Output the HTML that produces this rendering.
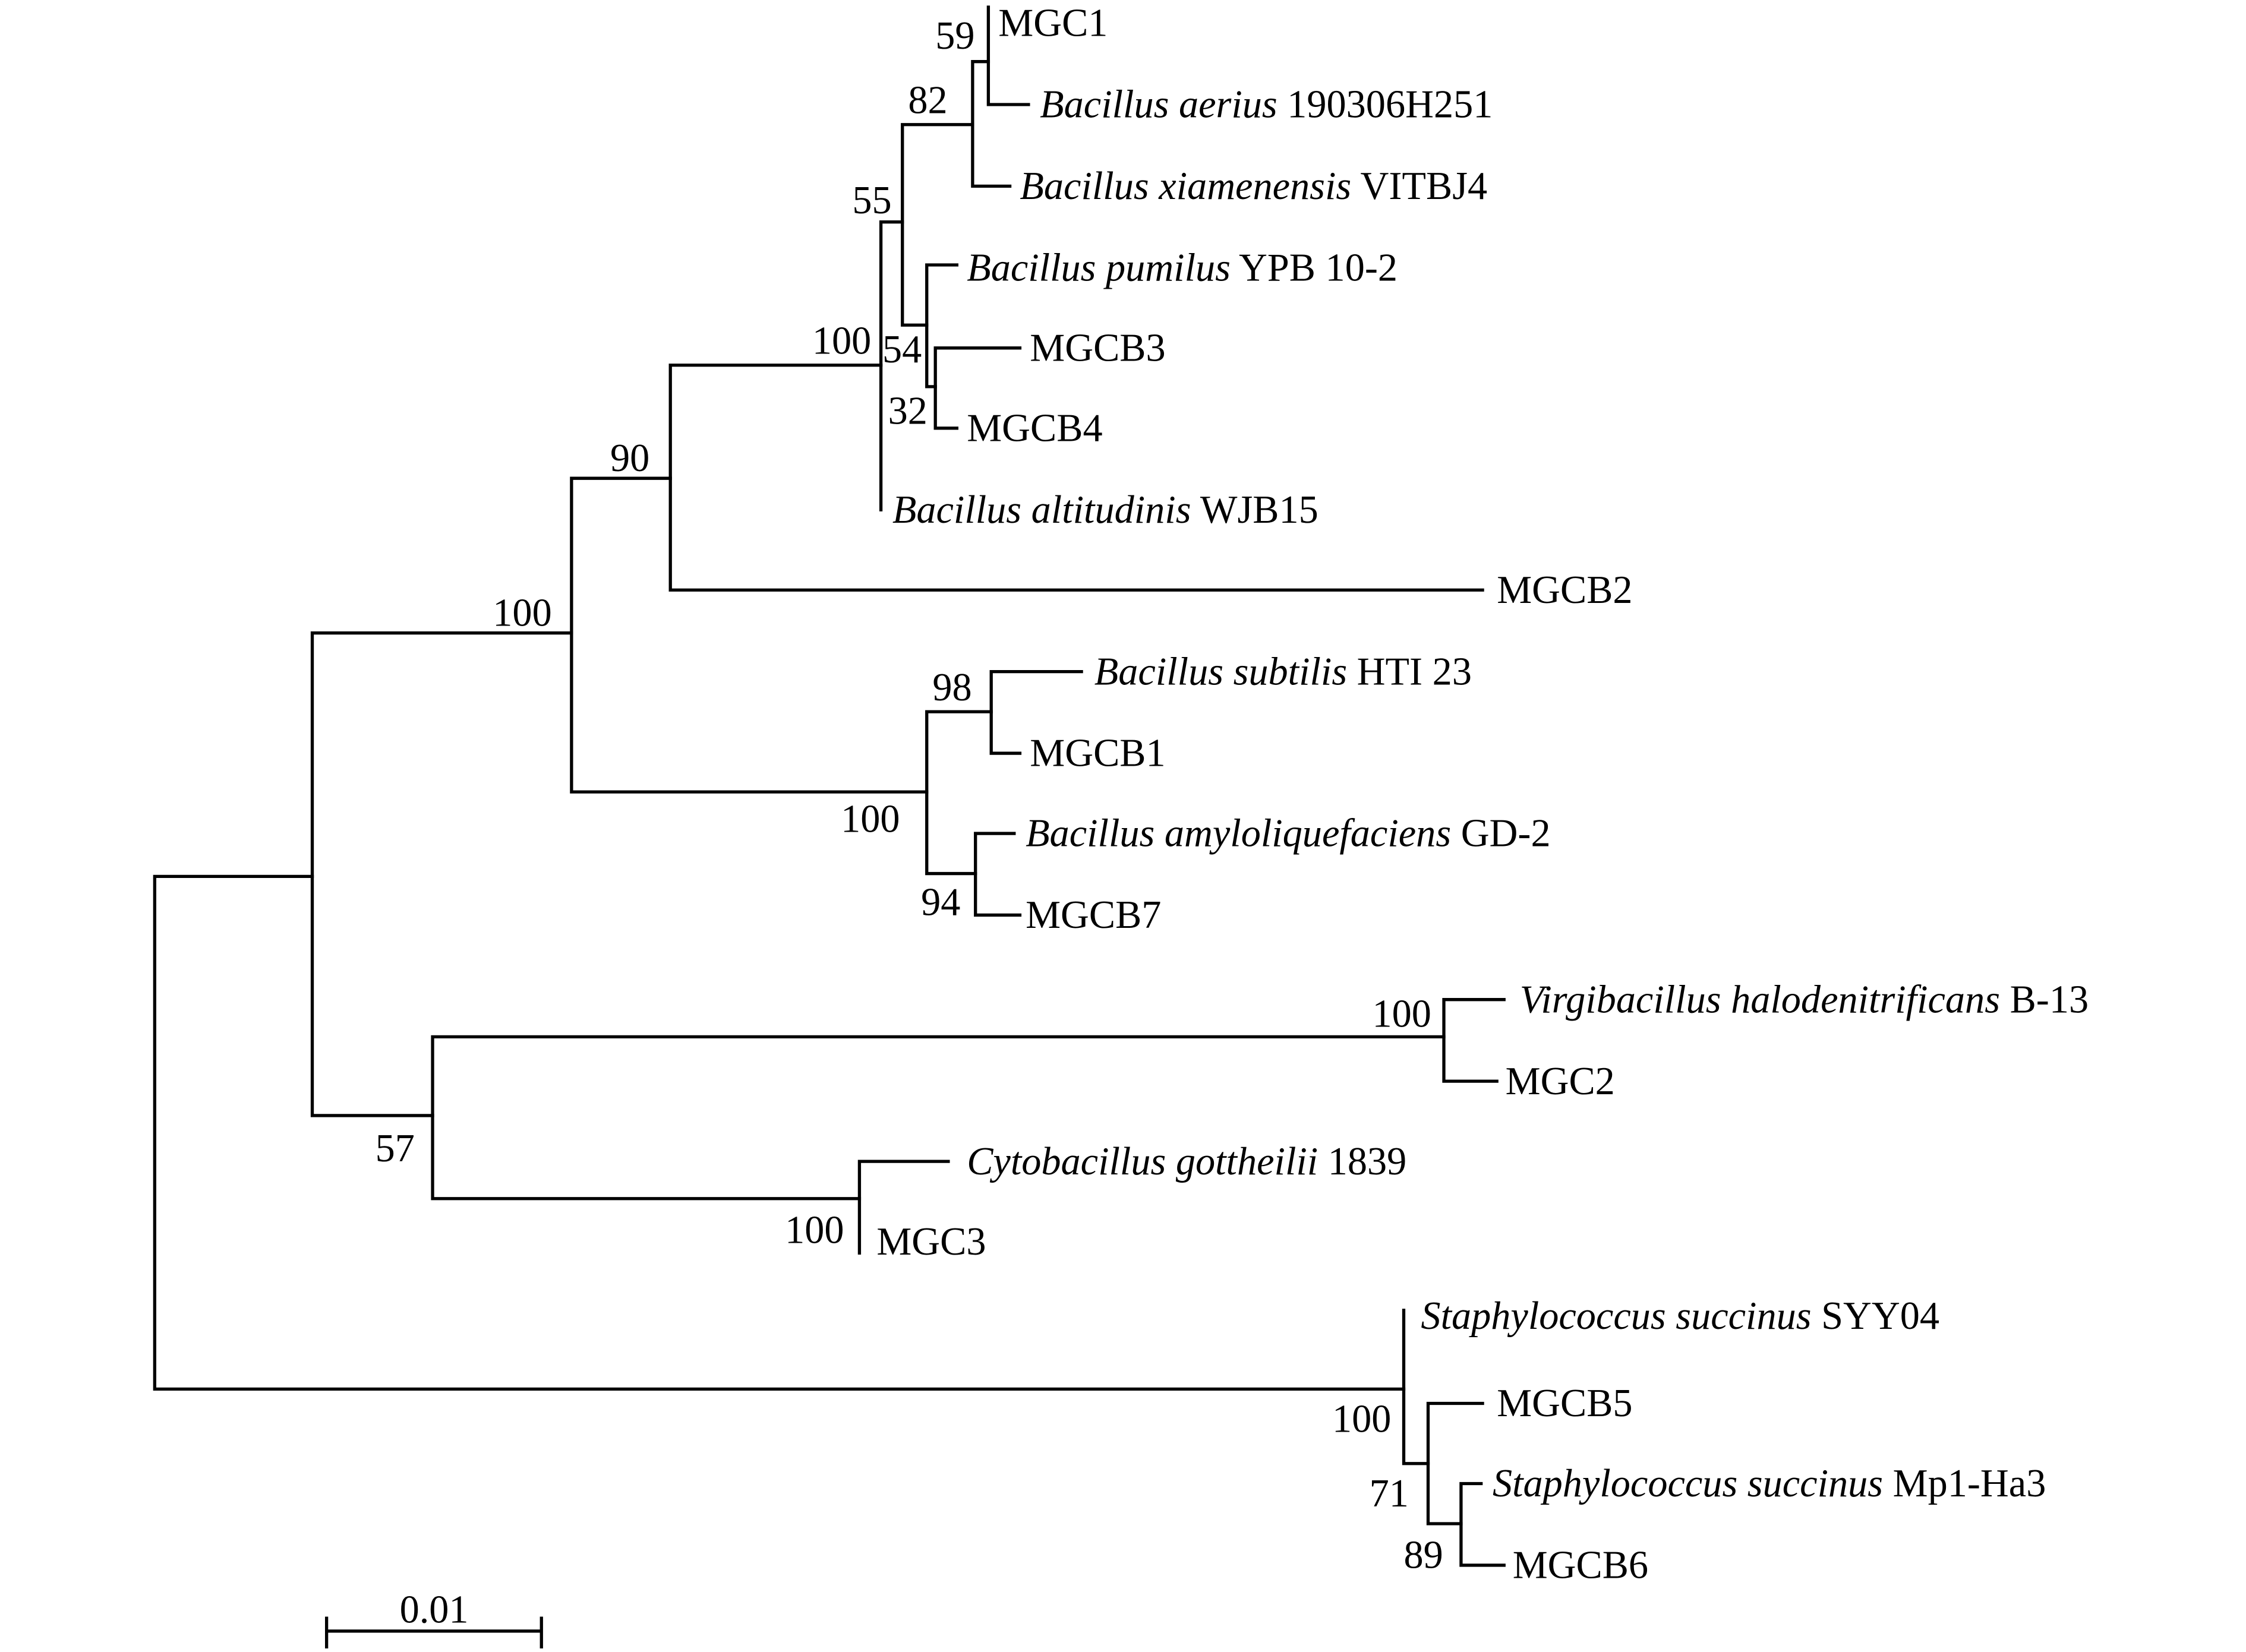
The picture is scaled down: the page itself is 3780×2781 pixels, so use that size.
<!DOCTYPE html>
<html><head><style>html,body{margin:0;padding:0;background:#fff}svg{display:block}</style></head>
<body>
<svg width="3780" height="2781" viewBox="0 0 1568 1153.6" xmlns="http://www.w3.org/2000/svg">
<g stroke="#000" stroke-width="2.2" fill="none" stroke-linecap="square">
<path d="M108 612V970M108 612H218M108 970H980"/>
<path d="M218 442V779M218 442H399M218 779H302"/>
<path d="M399 334V553M399 334H468M399 553H647"/>
<path d="M468 255V412M468 255H615M468 412H1035"/>
<path d="M615 155V356M615 155H630"/>
<path d="M630 87V227M630 87H679M630 227H647"/>
<path d="M679 43V130M679 43H690M679 130H705"/>
<path d="M690 5V73M690 73H718"/>
<path d="M647 185V270M647 185H668M647 270H653"/>
<path d="M653 243V299M653 243H712M653 299H668"/>
<path d="M647 497V610M647 497H692M647 610H681"/>
<path d="M692 469V526M692 469H755M692 526H712"/>
<path d="M681 582V639M681 582H708M681 639H712"/>
<path d="M302 724V837M302 724H1008M302 837H600"/>
<path d="M1008 698V755M1008 698H1050M1008 755H1045"/>
<path d="M600 811V875M600 811H662"/>
<path d="M980 915V1022M980 1022H997"/>
<path d="M997 980V1064M997 980H1035M997 1064H1020"/>
<path d="M1020 1036V1093M1020 1036H1034M1020 1093H1050"/>
<path d="M228 1139H378M228 1130V1150M378 1130V1150"/>
</g>
<g font-family="Liberation Serif, serif" font-size="27.5" fill="#000">
<text x="697" y="25">MGC1</text>
<text x="726" y="82"><tspan font-style="italic">Bacillus aerius</tspan> 190306H251</text>
<text x="712" y="139"><tspan font-style="italic">Bacillus xiamenensis</tspan> VITBJ4</text>
<text x="675" y="196"><tspan font-style="italic">Bacillus pumilus</tspan> YPB 10-2</text>
<text x="719" y="252">MGCB3</text>
<text x="675" y="308">MGCB4</text>
<text x="623" y="365"><tspan font-style="italic">Bacillus altitudinis</tspan> WJB15</text>
<text x="1045" y="421">MGCB2</text>
<text x="764" y="478"><tspan font-style="italic">Bacillus subtilis</tspan> HTI 23</text>
<text x="719" y="535">MGCB1</text>
<text x="716" y="591"><tspan font-style="italic">Bacillus amyloliquefaciens</tspan> GD-2</text>
<text x="716" y="648">MGCB7</text>
<text x="1061" y="707"><tspan font-style="italic">Virgibacillus halodenitrificans</tspan> B-13</text>
<text x="1051" y="764">MGC2</text>
<text x="675" y="820"><tspan font-style="italic">Cytobacillus gottheilii</tspan> 1839</text>
<text x="612" y="876">MGC3</text>
<text x="992" y="928"><tspan font-style="italic">Staphylococcus succinus</tspan> SYY04</text>
<text x="1045" y="989">MGCB5</text>
<text x="1042" y="1045"><tspan font-style="italic">Staphylococcus succinus</tspan> Mp1-Ha3</text>
<text x="1056" y="1102">MGCB6</text>
<text x="653" y="34">59</text>
<text x="634" y="79">82</text>
<text x="595" y="149">55</text>
<text x="567" y="247">100</text>
<text x="616" y="253">54</text>
<text x="620" y="296">32</text>
<text x="426" y="329">90</text>
<text x="344" y="437">100</text>
<text x="651" y="489">98</text>
<text x="587" y="581">100</text>
<text x="643" y="639">94</text>
<text x="958" y="717">100</text>
<text x="262" y="811">57</text>
<text x="548" y="868">100</text>
<text x="930" y="1000">100</text>
<text x="956" y="1052">71</text>
<text x="980" y="1095">89</text>
<text x="279" y="1133">0.01</text>
</g>
</svg>
</body></html>
